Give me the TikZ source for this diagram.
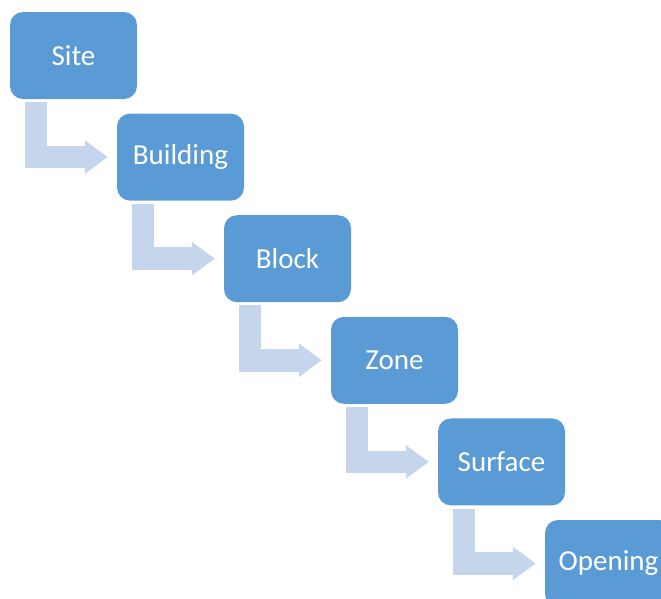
\documentclass[tikz,border=0pt]{standalone}
\usepackage{fontspec}
\setmainfont{Carlito}
\usetikzlibrary{positioning,arrows.meta}

\definecolor{boxblue}{RGB}{91,155,213}
\definecolor{arrowblue}{RGB}{197,213,235}

\tikzset{
  level/.style={rectangle, rounded corners=13pt, fill=boxblue, text=white,
    minimum width=127pt, minimum height=87pt, inner sep=0pt,
    font=\fontsize{29}{33}\selectfont},
  bent/.style={draw=arrowblue, line width=22.5pt, line join=miter,
    -{Triangle[length=23pt,width=32pt]}}
}

\begin{document}
\begin{tikzpicture}
  \clip (0,0) rectangle (661pt,-598pt);
  \node[level] (site) at (73.5pt,-55.5pt) {Site};
  \node[level, below right=14.2pt and -20.4pt of site] (building) {Building};
  \node[level, below right=14.2pt and -20.4pt of building] (block) {Block};
  \node[level, below right=14.2pt and -20.4pt of block] (zone) {Zone};
  \node[level, below right=14.2pt and -20.4pt of zone] (surface) {Surface};
  \node[level, below right=14.2pt and -20.4pt of surface] (opening) {Opening};

  % bent arrows between levels
  \foreach \a/\b in {site/building, building/block, block/zone, zone/surface, surface/opening}
    \draw[bent] ([xshift=26pt,yshift=-3pt]\a.south west) |- ([xshift=-9pt]\b.west);
\end{tikzpicture}
\end{document}
